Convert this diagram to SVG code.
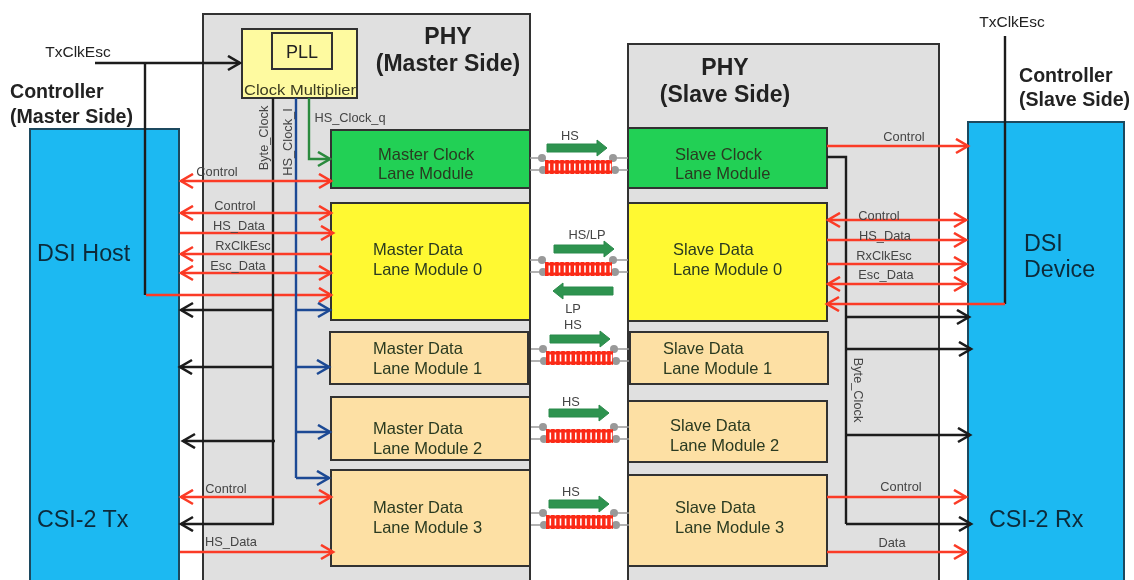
<svg xmlns="http://www.w3.org/2000/svg" xmlns:xlink="http://www.w3.org/1999/xlink" width="1134" height="580" viewBox="0 0 1134 580">
<style>
text{font-family:"Liberation Sans",Arial,sans-serif;fill:#222}
.panel{fill:#e0e0e0;stroke:#333;stroke-width:2}
.ctl{fill:#1cb9f2;stroke:#1d4a5e;stroke-width:2}
.box{stroke:#333;stroke-width:2}
.green{fill:#22d055}.yellow{fill:#fff933}.tan{fill:#fde0a4}
.h{font-weight:bold;font-size:23px;text-anchor:middle}
.c{font-weight:bold;font-size:19.6px}
.big{font-size:23.3px;fill:#0b2b3a}
.n{font-size:16.5px;fill:#2a3a20}
.s{font-size:12.8px;fill:#444;text-anchor:middle}
.r{fill:none;stroke:#fb3a25;stroke-width:2.4;marker-end:url(#ar)}
.rr{fill:none;stroke:#fb3a25;stroke-width:2.4;marker-end:url(#ar);marker-start:url(#arS)}
.k{fill:none;stroke:#1a1a1a;stroke-width:2.4}
.ka{fill:none;stroke:#1a1a1a;stroke-width:2.4;marker-end:url(#ak)}
.b{fill:none;stroke:#1d4a94;stroke-width:2.4}
.ba{fill:none;stroke:#1d4a94;stroke-width:2.4;marker-end:url(#ab)}
.wire{stroke:#999;stroke-width:1.5}
</style>
<defs>
<marker id="ar" markerUnits="userSpaceOnUse" markerWidth="16" markerHeight="18" refX="13" refY="8" orient="auto"><path d="M1 1L13 8L1 15" fill="none" stroke="#fb3a25" stroke-width="2.6"/></marker>
<marker id="arS" markerUnits="userSpaceOnUse" markerWidth="16" markerHeight="18" refX="3" refY="8" orient="auto"><path d="M15 1L3 8L15 15" fill="none" stroke="#fb3a25" stroke-width="2.6"/></marker>
<marker id="ak" markerUnits="userSpaceOnUse" markerWidth="16" markerHeight="18" refX="13" refY="8" orient="auto"><path d="M1 1L13 8L1 15" fill="none" stroke="#1a1a1a" stroke-width="2.6"/></marker>
<marker id="ab" markerUnits="userSpaceOnUse" markerWidth="16" markerHeight="18" refX="13" refY="8" orient="auto"><path d="M1 1L13 8L1 15" fill="none" stroke="#1d4a94" stroke-width="2.6"/></marker>
<marker id="ag" markerUnits="userSpaceOnUse" markerWidth="16" markerHeight="18" refX="13" refY="8" orient="auto"><path d="M1 1L13 8L1 15" fill="none" stroke="#2b8a3e" stroke-width="2.6"/></marker>
<g id="coil">
<line x1="0" y1="7" x2="67" y2="7" stroke="#fb2a18" stroke-width="14" stroke-dasharray="3.5 1.6"/>
<line x1="0" y1="2" x2="67" y2="2" stroke="#fb2a18" stroke-width="3"/>
<line x1="0" y1="12" x2="67" y2="12" stroke="#fb2a18" stroke-width="3"/>
</g>
<g id="wires">
<line class="wire" x1="-15" y1="-2" x2="0" y2="-2"/><line class="wire" x1="-15" y1="10" x2="0" y2="10"/>
<line class="wire" x1="67" y1="-2" x2="83" y2="-2"/><line class="wire" x1="67" y1="10" x2="83" y2="10"/>
<circle cx="-3" cy="-2" r="4" fill="#999"/><circle cx="-2" cy="10" r="4" fill="#999"/>
<circle cx="68" cy="-2" r="4" fill="#999"/><circle cx="70" cy="10" r="4" fill="#999"/>
</g>
<path id="blk" d="M0 -4H50V-8L60 0L50 8V4H0Z" fill="#2f9350" stroke="#2b8a4a"/>
<filter id="soft" x="-2%" y="-2%" width="104%" height="104%"><feGaussianBlur stdDeviation="0.55"/></filter>
</defs>
<g filter="url(#soft)">
<rect x="0" y="0" width="1134" height="580" fill="#fff"/>
<g id="phy-master"><rect class="panel" x="203" y="14" width="327" height="570"/><text class="h" x="448" y="44">PHY</text><text class="h" x="448" y="71">(Master Side)</text></g>
<g id="phy-slave"><rect class="panel" x="628" y="44" width="311" height="540"/><text class="h" x="725" y="75">PHY</text><text class="h" x="725" y="102">(Slave Side)</text></g>
<g id="controller-master"><rect class="ctl" x="30" y="129" width="149" height="455"/>
<text class="c" x="10" y="98">Controller</text><text class="c" x="10" y="123">(Master Side)</text>
<text class="big" x="37" y="261">DSI Host</text><text class="big" x="37" y="527">CSI-2 Tx</text></g>
<g id="controller-slave"><rect class="ctl" x="968" y="122" width="156" height="462"/>
<text class="c" x="1019" y="82">Controller</text><text class="c" x="1019" y="106">(Slave Side)</text>
<text class="big" x="1024" y="251">DSI</text><text class="big" x="1024" y="277">Device</text><text class="big" x="989" y="527">CSI-2 Rx</text></g>
<g id="pll"><rect x="242" y="29" width="115" height="69" fill="#fefaa0" stroke="#333" stroke-width="2"/><rect x="272" y="33" width="60" height="36" fill="#fefaa0" stroke="#333" stroke-width="2"/>
<text x="302" y="58" font-size="18" text-anchor="middle">PLL</text><text x="300" y="95" font-size="15" text-anchor="middle" style="fill:#3a3a20" textLength="112" lengthAdjust="spacingAndGlyphs">Clock Multiplier</text></g>
<g id="master-clock"><rect class="box green" x="331" y="130" width="199" height="58"/><text class="n" x="378" y="160">Master Clock</text><text class="n" x="378" y="179">Lane Module</text></g>
<g id="master-0"><rect class="box yellow" x="331" y="203" width="199" height="117"/><text class="n" x="373" y="255">Master Data</text><text class="n" x="373" y="275">Lane Module 0</text></g>
<g id="master-1"><rect class="box tan" x="330" y="332" width="198" height="52"/><text class="n" x="373" y="354">Master Data</text><text class="n" x="373" y="374">Lane Module 1</text></g>
<g id="master-2"><rect class="box tan" x="331" y="397" width="199" height="63"/><text class="n" x="373" y="434">Master Data</text><text class="n" x="373" y="454">Lane Module 2</text></g>
<g id="master-3"><rect class="box tan" x="331" y="470" width="199" height="96"/><text class="n" x="373" y="513">Master Data</text><text class="n" x="373" y="533">Lane Module 3</text></g>
<g id="slave-clock"><rect class="box green" x="628" y="128" width="199" height="60"/><text class="n" x="675" y="160">Slave Clock</text><text class="n" x="675" y="179">Lane Module</text></g>
<g id="slave-0"><rect class="box yellow" x="628" y="203" width="199" height="118"/><text class="n" x="673" y="255">Slave Data</text><text class="n" x="673" y="275">Lane Module 0</text></g>
<g id="slave-1"><rect class="box tan" x="630" y="332" width="198" height="52"/><text class="n" x="663" y="354">Slave Data</text><text class="n" x="663" y="374">Lane Module 1</text></g>
<g id="slave-2"><rect class="box tan" x="628" y="401" width="199" height="61"/><text class="n" x="670" y="431">Slave Data</text><text class="n" x="670" y="451">Lane Module 2</text></g>
<g id="slave-3"><rect class="box tan" x="628" y="475" width="199" height="91"/><text class="n" x="675" y="513">Slave Data</text><text class="n" x="675" y="533">Lane Module 3</text></g>
<g id="connectors">
<path class="ka" d="M95 63H240"/>
<path class="k" d="M145 63V295"/>
<path class="r" d="M146 295H331"/>
<path class="k" d="M273 98V524"/>
<path class="ka" d="M273 310H181"/><path class="ka" d="M273 367H180"/><path class="ka" d="M275 441H183"/><path class="ka" d="M274 524H181"/>
<path class="b" d="M296 98V478"/>
<path class="ba" d="M296 310H330"/><path class="ba" d="M296 367H329"/><path class="ba" d="M296 432H330"/><path class="ba" d="M296 478H329"/>
<path d="M309 98V159H330" fill="none" stroke="#2b8a3e" stroke-width="2.4" marker-end="url(#ag)"/>
<path class="rr" d="M181 181H331"/><path class="rr" d="M181 213H331"/><path class="r" d="M180 233H333"/><path class="r" d="M332 254H181"/><path class="rr" d="M181 273H331"/>
<path class="rr" d="M181 497H331"/><path class="r" d="M180 552H333"/>
<path class="r" d="M827 146H968"/>
<path class="k" d="M827 157H846V524"/>
<path class="ka" d="M846 317H969"/><path class="ka" d="M846 349H971"/><path class="ka" d="M846 435H970"/><path class="ka" d="M846 524H971"/>
<path class="rr" d="M828 220H966"/><path class="r" d="M827 240H966"/><path class="r" d="M827 264H966"/><path class="rr" d="M828 284H966"/>
<path class="k" d="M1005 36V304"/>
<path class="r" d="M1005 304H827"/>
<path class="r" d="M827 497H966"/><path class="r" d="M827 552H966"/>
<use xlink:href="#wires" href="#wires" x="545" y="160"/><use xlink:href="#coil" href="#coil" x="545" y="160"/>
<use xlink:href="#wires" href="#wires" x="545" y="262"/><use xlink:href="#coil" href="#coil" x="545" y="262"/>
<use xlink:href="#wires" href="#wires" x="546" y="351"/><use xlink:href="#coil" href="#coil" x="546" y="351"/>
<use xlink:href="#wires" href="#wires" x="546" y="429"/><use xlink:href="#coil" href="#coil" x="546" y="429"/>
<use xlink:href="#wires" href="#wires" x="546" y="515"/><use xlink:href="#coil" href="#coil" x="546" y="515"/>
<use xlink:href="#blk" href="#blk" transform="translate(547,148)"/>
<use xlink:href="#blk" href="#blk" transform="translate(554,249)"/>
<use xlink:href="#blk" href="#blk" transform="translate(613,291) scale(-1,1)"/>
<use xlink:href="#blk" href="#blk" transform="translate(550,339)"/>
<use xlink:href="#blk" href="#blk" transform="translate(549,413)"/>
<use xlink:href="#blk" href="#blk" transform="translate(549,504)"/>
</g>
<g id="labels">
<text x="78" y="57" font-size="15.5" text-anchor="middle">TxClkEsc</text>
<text x="1012" y="27" font-size="15.5" text-anchor="middle">TxClkEsc</text>
<text class="s" x="217" y="176">Control</text><text class="s" x="235" y="210">Control</text><text class="s" x="239" y="230">HS_Data</text><text class="s" x="243" y="250">RxClkEsc</text><text class="s" x="238" y="270">Esc_Data</text>
<text class="s" x="226" y="493">Control</text><text class="s" x="231" y="546">HS_Data</text>
<text class="s" x="350" y="122">HS_Clock_q</text>
<text class="s" transform="translate(268,138) rotate(-90)">Byte_Clock</text>
<text class="s" transform="translate(292,142) rotate(-90)">HS_Clock_I</text>
<text class="s" x="570" y="140">HS</text><text class="s" x="587" y="239">HS/LP</text><text class="s" x="573" y="313">LP</text><text class="s" x="573" y="329">HS</text><text class="s" x="571" y="406">HS</text><text class="s" x="571" y="496">HS</text>
<text class="s" x="904" y="141">Control</text><text class="s" x="879" y="220">Control</text><text class="s" x="885" y="240">HS_Data</text><text class="s" x="884" y="260">RxClkEsc</text><text class="s" x="886" y="279">Esc_Data</text>
<text class="s" x="901" y="491">Control</text><text class="s" x="892" y="547">Data</text>
<text class="s" transform="translate(854,390) rotate(90)">Byte_Clock</text>
</g>
</g>
</svg>
